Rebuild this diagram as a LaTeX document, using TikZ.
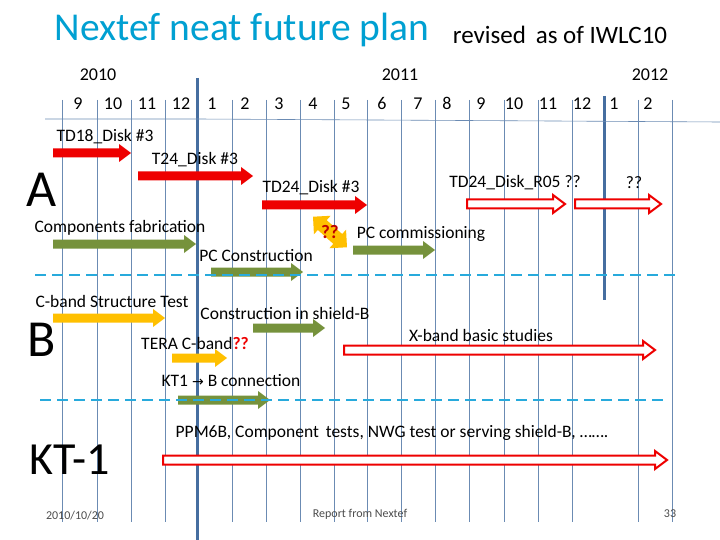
\documentclass[tikz,border=0pt]{standalone}
\usepackage{fontspec}
\setmainfont{Carlito}
\usetikzlibrary{shapes.arrows}
\definecolor{ttl}{RGB}{0,160,210}
\definecolor{grid}{RGB}{70,110,160}
\definecolor{rd}{RGB}{238,0,0}
\definecolor{grn}{RGB}{118,146,60}
\definecolor{ylw}{RGB}{255,192,0}
\definecolor{dsh}{RGB}{40,170,220}
\newcommand\barrow[5]{% x1 x2 y fill draw
  \path[#4] (#1,#3-4.5) -- (#2-12,#3-4.5) -- (#2-12,#3-9) -- (#2,#3) -- (#2-12,#3+9) -- (#2-12,#3+4.5) -- (#1,#3+4.5) -- cycle;}
\begin{document}
\begin{tikzpicture}[x=1pt,y=-1pt,
  lbl/.style={font=\fontsize{17.5}{17.5}\selectfont,inner sep=0pt},
  mon/.style={font=\fontsize{18}{18}\selectfont,inner sep=0pt,anchor=base},
  big/.style={font=\fontsize{52}{52}\selectfont,inner sep=0pt},
  foot/.style={font=\fontsize{12}{12}\selectfont,text=black!70,inner sep=0pt},
  solidred/.style={fill=rd},
  solidgrn/.style={fill=grn},
  solidylw/.style={fill=ylw},
  hollow/.style={fill=white,draw=rd,line width=2pt,line join=miter},
  thin/.style={draw=grid!80,line width=0.6pt},
  thick/.style={draw=grid,line width=3pt},
  dline/.style={draw=dsh,line width=2.5pt,dash pattern=on 11pt off 6pt}]
\useasboundingbox (0,0) rectangle (720,540);
\fill[white] (0,0) rectangle (720,540);
% grid
\foreach \x in {62,97,131,165,232,266,300,334,367,401,435,469,504,538,572,638,672}
  \draw[thin] (\x,100) -- (\x,522);
\draw[thick] (197,78) -- (197,540);
\draw[thick] (604,96) -- (604,300);
\draw[thin] (45,119) -- (197,119) -- (375,120) -- (553,121) -- (720,122);
% title
\node[text=ttl,font=\fontsize{39.5}{39.5}\selectfont,inner sep=0pt] (title) at (242,30) {Nextef neat future plan};
\node[font=\fontsize{25}{25}\selectfont,inner sep=0pt] (rev) at (560,35) {revised\, as of IWLC10};
\node[mon] (y0) at (98,81) {2010};
\node[mon] (y1) at (400,81) {2011};
\node[mon] (y2) at (650,81) {2012};
\foreach \x/\m in {78/9,113/10,147/11,181/12,212/1,245/2,279/3,313/4,346/5,382/6,418/7,447/8,481/9,514/10,548/11,582/12,614/1,648/2}
  \node[mon] at (\x,110) {\m};
% A
\node[big] (A) at (42,190) {A};
\node[lbl] (t1) at (105,137) {TD18\_Disk \#3};
\barrow{53}{131}{153}{solidred}{}
\node[lbl] (t2) at (195,160) {T24\_Disk \#3};
\barrow{138}{253}{176}{solidred}{}
\node[lbl] (t3) at (311,188) {TD24\_Disk \#3};
\barrow{262}{367}{205}{solidred}{}
\node[lbl] (t4) at (515,183) {TD24\_Disk\_R05 ??};
\barrow{467}{565}{204}{hollow}{}
\node[lbl] (t5) at (634,183) {??};
\barrow{575}{661}{204}{hollow}{}
\node[lbl] (t6) at (120,228) {Components fabrication};
\barrow{53}{196}{244}{solidgrn}{}
\node[double arrow,fill=ylw,draw=orange!50!yellow,line width=1.2pt,minimum height=44pt,minimum width=22pt,double arrow head extend=3pt,double arrow head indent=0pt,inner sep=3pt,rotate=-42] (dq) at (330,232) {};
\node[lbl,text=rd!80!black,font=\bfseries\fontsize{19}{19}\selectfont] (q) at (330,232) {??};
\node[lbl] (t7) at (421,234) {PC commissioning};
\barrow{353}{435}{250}{solidgrn}{}
\node[lbl] (t8) at (256,256) {PC Construction};
\barrow{211}{303}{272}{solidgrn}{}
\draw[dline] (35,275) -- (675,275);
% B
\node[big] (B) at (42,340) {B};
\node[lbl] (t9) at (112,301) {C-band Structure Test};
\barrow{53}{165}{318}{solidylw}{}
\node[lbl] (t10) at (285,313) {Construction in shield-B};
\barrow{253}{325}{328}{solidgrn}{}
\node[lbl] (t11) at (195,343) {TERA C-band\textcolor{rd}{\textbf{??}}};
\barrow{172}{227}{358}{solidylw}{}
\node[lbl] (t12) at (481,335) {X-band basic studies};
\barrow{344}{655}{350}{hollow}{}
\node[lbl] (t13) at (231,381) {KT1 {\fontspec{DejaVu Sans}\fontsize{14}{14}\selectfont →} B connection};
\barrow{178}{270}{400}{solidgrn}{}
\draw[dline] (40,400) -- (668,400);
% KT-1
\node[font=\fontsize{46}{46}\selectfont,inner sep=0pt] (K) at (70,460) {KT-1};
\node[lbl] (t14) at (392,433) {PPM6B, Component\, tests, NWG test or serving shield-B, …….};
\barrow{163}{667}{460}{hollow}{}
% footer
\node[foot] (f1) at (75,516) {2010/10/20};
\node[foot] (f2) at (360,514) {Report from Nextef};
\node[foot] (f3) at (670,514) {33};
\end{tikzpicture}
\end{document}
